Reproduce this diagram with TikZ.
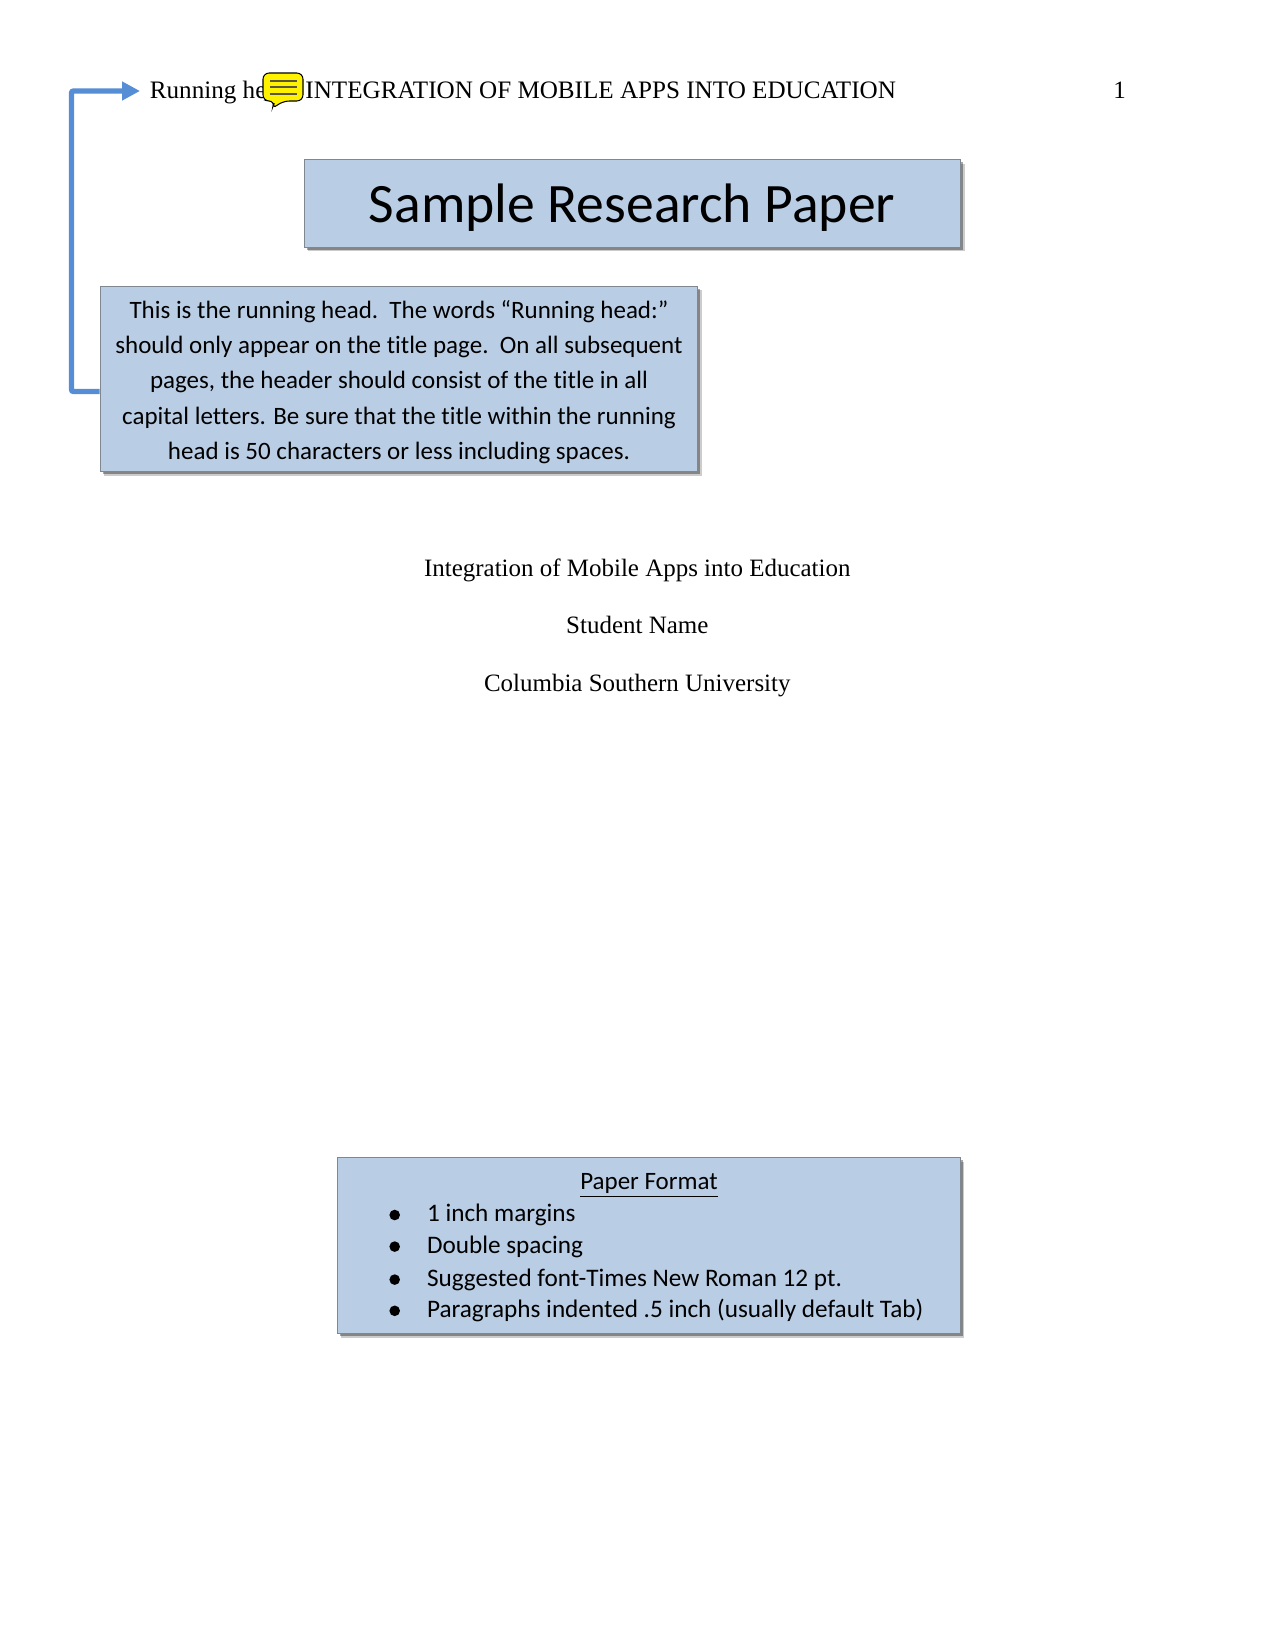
\documentclass[tikz,border=0pt]{standalone}
\usepackage{fontspec}
\setmainfont{Liberation Serif}
\newfontfamily\calloutfont[Ligatures=CommonOff]{Carlito}
\usepackage{tikz}
\usetikzlibrary{calc,positioning,shadows,arrows.meta}
\definecolor{boxblue}{HTML}{B9CDE5}
\definecolor{linkblue}{HTML}{558ED5}
\definecolor{boxedge}{HTML}{7F8791}
\tikzset{x=0.48bp, y=-0.48bp,
  page text/.style={font=\fontsize{12.03}{14}\selectfont, inner sep=0pt, anchor=base},
  callout/.style={draw=boxedge, fill=boxblue, line width=0.5pt, inner sep=0pt,
      drop shadow={shadow xshift=2pt, shadow yshift=-2pt, fill=black, opacity=0.2},
      drop shadow={shadow xshift=1.2pt, shadow yshift=-1.2pt, fill=black, opacity=0.35}},
  callout text/.style={font=\calloutfont\fontsize{12.05}{16.9}\selectfont, inner sep=0pt, align=center},
  item text/.style={font=\calloutfont\fontsize{12.15}{14}\selectfont, inner sep=0pt, right},
  link/.style={draw=linkblue, line width=2.6pt, rounded corners=1pt, -{Triangle[length=8.6pt,width=8.6pt]}},
  bubble/.style={draw=black, fill=yellow, line width=0.5pt, rounded corners=3pt},
  bubble line/.style={draw=black!75!yellow, line width=0.6pt}
}
\def\PaperLine#1#2#3{%
\node[page text] (#1) at (637.3,#2) {#3};
}
\begin{document}
\begin{tikzpicture}
\useasboundingbox (0,0) rectangle (1275,1650);
% header
\node[page text, anchor=base west, font=\fontsize{12.1}{14}\selectfont] (Header) at (149.5,98.3) {Running head: INTEGRATION OF MOBILE APPS INTO EDUCATION};
\node[page text] (PageNum) at (1119.5,98.3) {1};
\coordinate (HeaderTip) at (140,91);
\draw[bubble] (263,73) -- (303,73) -- (303,101) -- (283,101) -- (272,109) -- (275,101) -- (263,101) -- cycle;
\foreach \y in {81,87,94}
  \draw[bubble line] (270,\y) -- (297,\y);
% title
\node[callout, minimum width=315bp, minimum height=42bp] (TitleBox) at (632.3,203.5) {};
\node[page text, font=\calloutfont\fontsize{26.8}{32}\selectfont] (TitleText) at (632,222) {Sample Research Paper};
% running head note
\node[callout, minimum width=287bp, minimum height=89bp] (HeadBox) at (399,379) {};
\node[callout text, yshift=-1.5pt] (HeadText) at (HeadBox) {This is the running head.\ \ The words “Running head:”\\
should only appear on the title page.\ \ On all subsequent\\
pages, the header should consist of the title in all\\
capital letters. Be sure that the title within the running\\
head is 50 characters or less including spaces.};
\draw[link] ($(HeadBox.west)+(0,12.5)$) -- ++(-28,0) |- (HeaderTip);
% title page
\PaperLine{PaperTitle}{576}{Integration of Mobile Apps into Education}
\PaperLine{PaperAuthor}{633.4}{Student Name}
\PaperLine{PaperSchool}{691.8}{Columbia Southern University}
% format box
\node[callout, minimum width=299bp, minimum height=84.4bp] (FormatBox) at (648.8,1245.6) {};
\node[callout text] (FormatHead) at (649,1186) {\underline{Paper Format}};
\foreach \n/\y/\t in {1/1215/1 inch margins,
    2/1246.6/Double spacing,
    3/1279.6/Suggested font-Times New Roman 12 pt.,
    4/1310.8/Paragraphs indented .5 inch (usually default Tab)} {
  \fill (394.7,\y) circle (5.3);
  \node[item text] (Item\n) at (426.6,\y) {\t};
}
\end{tikzpicture}
\end{document}
